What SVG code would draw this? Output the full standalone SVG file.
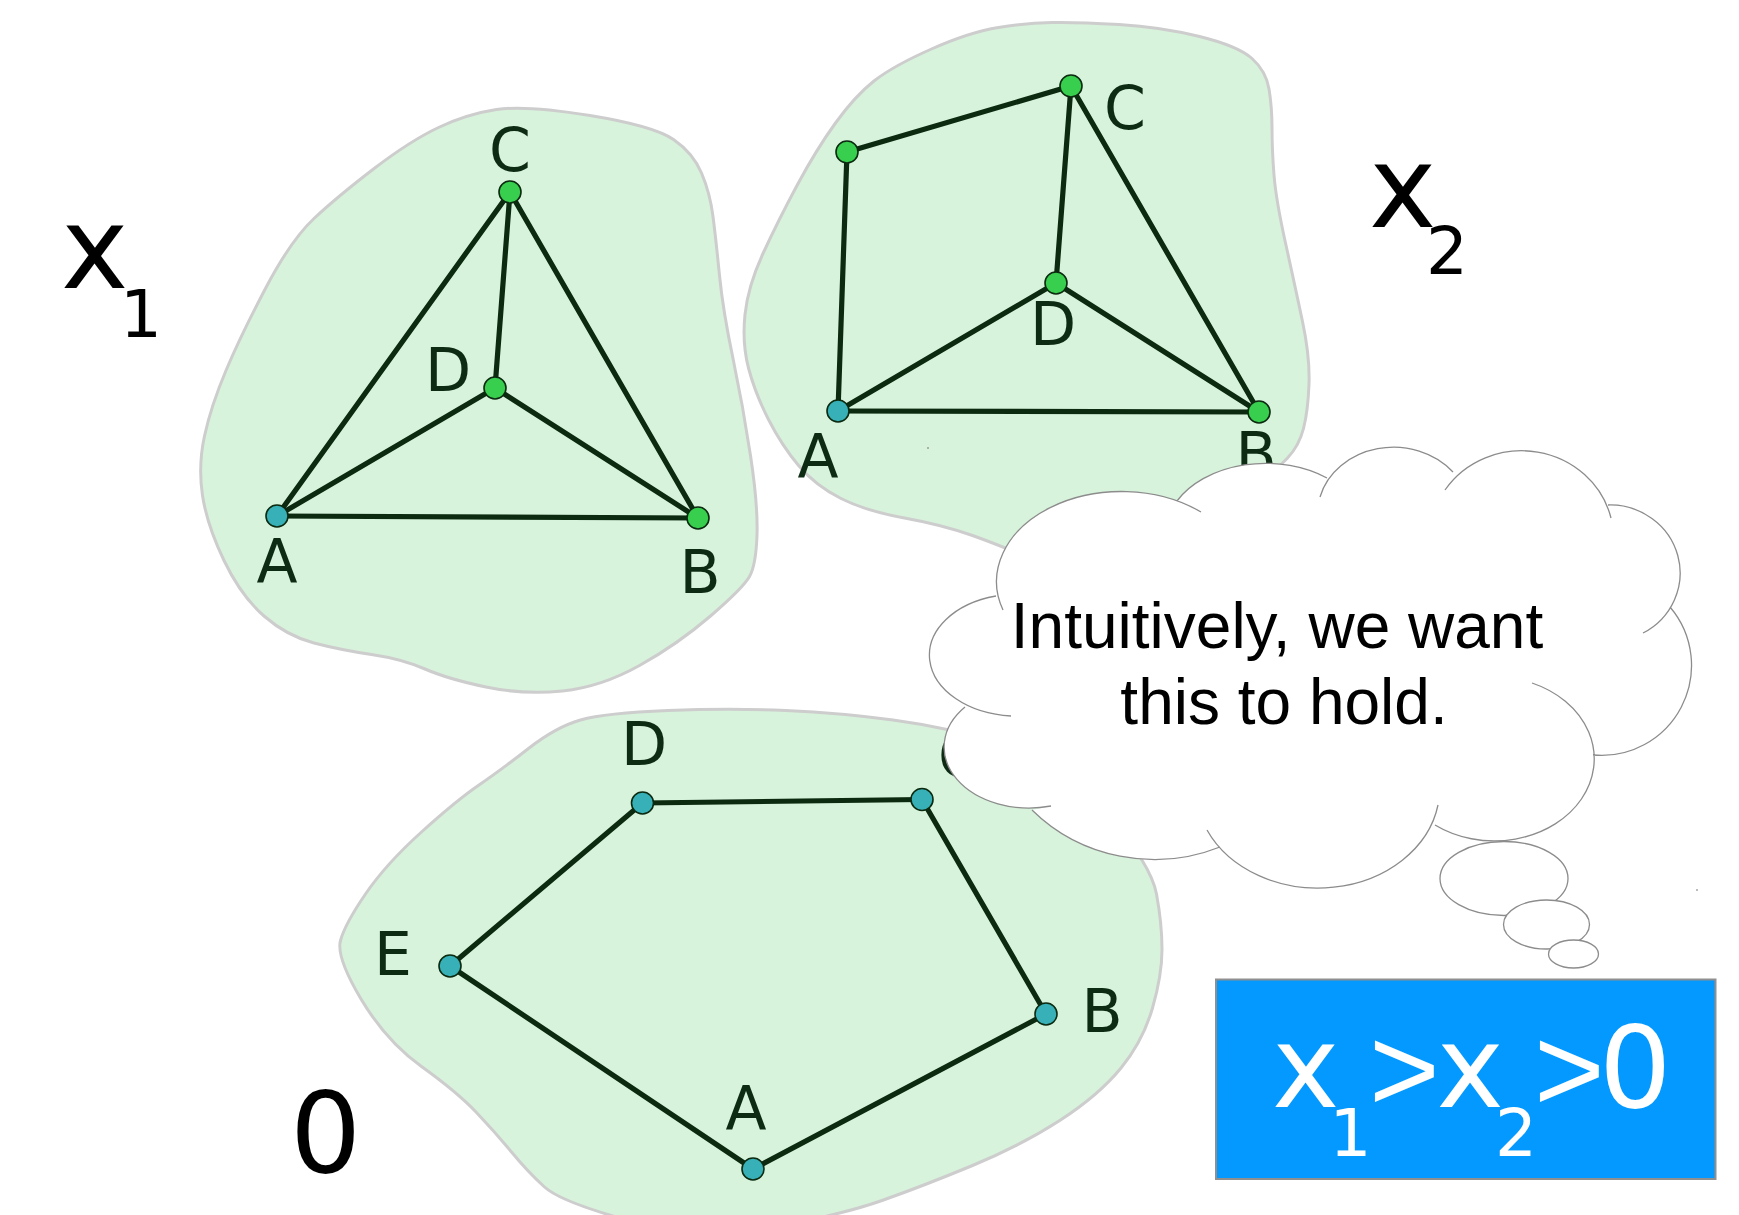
<svg xmlns="http://www.w3.org/2000/svg" width="1739" height="1215" viewBox="0 0 1739 1215">
<style>
.blob{fill:#d8f3dc;stroke:#cdcdcd;stroke-width:3}
.edge line{stroke:#0b2a0f;stroke-width:5.2;stroke-linecap:round}
.ng{fill:#38cf4f;stroke:#0b2a0f;stroke-width:1.6}
.nt{fill:#38b0b8;stroke:#0b2a0f;stroke-width:1.6}
.lbl{font-family:"DejaVu Sans",sans-serif;font-size:60px;fill:#0d2a12;text-anchor:middle}
.big{font-family:"DejaVu Sans",sans-serif;fill:#000}
.cloudfill{fill:#fff;stroke:none}
.cloudline{fill:none;stroke:#8c8c8c;stroke-width:1.3}
.bubble{fill:#fff;stroke:#8c8c8c;stroke-width:1.3}
.say{font-family:"Liberation Sans",Arial,sans-serif;font-size:64px;fill:#000;text-anchor:middle}
.box{fill:#0399ff;stroke:#8f8f8f;stroke-width:2}
.boxt{font-family:"DejaVu Sans",sans-serif;fill:#fff}
.gt{font-family:"Liberation Sans",Arial,sans-serif}
</style>
<rect width="1739" height="1215" fill="#fff"/>
<g id="regions">
<path id="region-x1" class="blob" d="M590,115.5 Q654,126 673.5,139.5 Q693,153 701.5,173 Q710,193 713,216.5 Q716,240 719.5,275.5 Q723,311 733,358.5 Q743,406 750.5,455.5 Q758,505 757,535 Q756,565 749.5,576.5 Q743,588 710.5,616 Q678,644 639.5,665.5 Q601,687 562.5,691 Q524,695 486,687 Q448,679 425,669 Q402,659 371.5,654.5 Q341,650 314,643 Q287,636 264,616 Q241,596 224,560.5 Q207,525 202.5,495.5 Q198,466 204.5,436 Q211,406 226,370.5 Q241,335 266,287.5 Q291,240 314,218.5 Q337,197 373.5,169 Q410,141 438.5,127.5 Q467,114 496.5,109.5 Q526,105 590,115.5 Z"/>
<path id="region-x2" class="blob" d="M1119,24.5 Q1161,27 1199.5,36.5 Q1238,46 1252,58.5 Q1266,71 1269,89 Q1272,107 1272,128.5 Q1272,150 1274,175 Q1276,200 1285.5,243 Q1295,286 1302.5,321.5 Q1310,357 1309,384 Q1308,411 1303.5,428.5 Q1299,446 1287.5,458 Q1276,470 1238,505 Q1200,540 1140,560 Q1080,580 1041,563 Q1002,546 972.5,535.5 Q943,525 904.5,518 Q866,511 841,498.5 Q816,486 799,466 Q782,446 768.5,419.5 Q755,393 748.5,368 Q742,343 745,314.5 Q748,286 763,253.5 Q778,221 797,185.5 Q816,150 835.5,123 Q855,96 874,81 Q893,66 931.5,49 Q970,32 998.5,27.5 Q1027,23 1052,22.5 Q1077,22 1119,24.5 Z"/>
<path id="region-0" class="blob" d="M580.5,720 Q605,713 668,710.5 Q731,708 786,710.5 Q841,713 893,720 Q945,727 1002.5,743.5 Q1060,760 1105.5,812 Q1151,864 1156.5,894 Q1162,924 1162,949.5 Q1162,975 1152.5,1008 Q1143,1041 1121,1068 Q1099,1095 1060.5,1120 Q1022,1145 972.5,1165.5 Q923,1186 882,1200.5 Q841,1215 770.5,1227.5 Q700,1240 630.5,1221 Q561,1202 544.5,1187 Q528,1172 511.5,1152 Q495,1132 476,1112 Q457,1092 421.5,1066.5 Q386,1041 361,999 Q336,957 340.5,940.5 Q345,924 365.5,894 Q386,864 421.5,832 Q457,800 479,785 Q501,770 528.5,748.5 Q556,727 580.5,720 Z"/>
<circle cx="928" cy="448" r="0.8" fill="#666"/>
<circle cx="1697" cy="890" r="0.8" fill="#666"/>
</g>
<g id="connectors" class="edge">
<line x1="277" y1="516" x2="510" y2="192"/>
<line x1="277" y1="516" x2="495" y2="388"/>
<line x1="277" y1="516" x2="698" y2="518"/>
<line x1="510" y1="192" x2="495" y2="388"/>
<line x1="510" y1="192" x2="698" y2="518"/>
<line x1="495" y1="388" x2="698" y2="518"/>
<line x1="847" y1="152" x2="1071" y2="86"/>
<line x1="847" y1="152" x2="838" y2="411"/>
<line x1="1071" y1="86" x2="1056" y2="283"/>
<line x1="1071" y1="86" x2="1259" y2="412"/>
<line x1="1056" y1="283" x2="838" y2="411"/>
<line x1="1056" y1="283" x2="1259" y2="412"/>
<line x1="838" y1="411" x2="1259" y2="412"/>
<line x1="642.5" y1="803" x2="922" y2="799.5"/>
<line x1="922" y1="799.5" x2="1046" y2="1014"/>
<line x1="1046" y1="1014" x2="753" y2="1169"/>
<line x1="753" y1="1169" x2="450" y2="966"/>
<line x1="450" y1="966" x2="642.5" y2="803"/>
</g>
<g id="x1-A"><circle class="nt" cx="277" cy="516" r="11"/><text class="lbl" x="277" y="582">A</text></g>
<g id="x1-B"><circle class="ng" cx="698" cy="518" r="11"/><text class="lbl" x="700" y="593">B</text></g>
<g id="x1-C"><circle class="ng" cx="510" cy="192" r="11"/><text class="lbl" x="510" y="171">C</text></g>
<g id="x1-D"><circle class="ng" cx="495" cy="388" r="11"/><text class="lbl" x="448" y="391">D</text></g>
<g id="x2-E"><circle class="ng" cx="847" cy="152" r="11"/></g>
<g id="x2-A"><circle class="nt" cx="838" cy="411" r="11"/><text class="lbl" x="818" y="477">A</text></g>
<g id="x2-B"><circle class="ng" cx="1259" cy="412" r="11"/><text class="lbl" x="1256" y="475">B</text></g>
<g id="x2-C"><circle class="ng" cx="1071" cy="86" r="11"/><text class="lbl" x="1125" y="129">C</text></g>
<g id="x2-D"><circle class="ng" cx="1056" cy="283" r="11"/><text class="lbl" x="1053" y="345">D</text></g>
<g id="o-A"><circle class="nt" cx="753" cy="1169" r="11"/><text class="lbl" x="746" y="1129">A</text></g>
<g id="o-B"><circle class="nt" cx="1046" cy="1014" r="11"/><text class="lbl" x="1102" y="1032">B</text></g>
<g id="o-C"><circle class="nt" cx="922" cy="799.5" r="11"/><text class="lbl" x="959" y="777">C</text></g>
<g id="o-D"><circle class="nt" cx="642.5" cy="803" r="11"/><text class="lbl" x="644" y="765">D</text></g>
<g id="o-E"><circle class="nt" cx="450" cy="966" r="11"/><text class="lbl" x="393" y="975">E</text></g>
<g id="label-x1"><text class="big"><tspan x="61" y="288" font-size="114">x</tspan><tspan x="120" y="337" font-size="66">1</tspan></text></g>
<g id="label-x2"><text class="big"><tspan x="1369" y="227" font-size="114">x</tspan><tspan x="1426" y="274" font-size="66">2</tspan></text></g>
<g id="label-0"><text class="big" x="290" y="1172" font-size="112">0</text></g>
<g id="thought-cloud">
<path class="cloudfill" d="M996,596 A88,61 0 0 0 1011,716 L965,707 A85,61 0 0 0 1051,806 L1032,810 A170,162 0 0 0 1220,847 L1207,830 A122,100 0 0 0 1438,805 L1435,825 A100,82 0 1 0 1532,683 L1593,755 A90,90 0 0 0 1670,607 L1643,633 A70,68 0 0 0 1608,505 L1611,518 A92,88 0 0 0 1445,490 L1453,472 A76,66 0 0 0 1320,497 L1327,478 A100,70 0 0 0 1177,501 L1201,512 A125,90 0 0 0 1003,610 Z"/>
<path class="cloudline" d="M996,596 A88,61 0 0 0 1011,716 M965,707 A85,61 0 0 0 1051,806 M1032,810 A170,162 0 0 0 1220,847 M1207,830 A122,100 0 0 0 1438,805 M1435,825 A100,82 0 1 0 1532,683 M1593,755 A90,90 0 0 0 1670,607 M1643,633 A70,68 0 0 0 1608,505 M1611,518 A92,88 0 0 0 1445,490 M1453,472 A76,66 0 0 0 1320,497 M1327,478 A100,70 0 0 0 1177,501 M1201,512 A125,90 0 0 0 1003,610"/>
<ellipse class="bubble" cx="1504" cy="878.5" rx="64" ry="37"/>
<ellipse class="bubble" cx="1546.5" cy="924.5" rx="43" ry="24.5"/>
<ellipse class="bubble" cx="1573.5" cy="954" rx="25" ry="14"/>
<text class="say"><tspan x="1277" y="648">Intuitively, we want</tspan><tspan x="1284" y="724">this to hold.</tspan></text>
</g>
<g id="inequality">
<rect class="box" x="1216" y="979.5" width="499.5" height="199.5"/>
<text class="boxt"><tspan x="1272" y="1107" font-size="114">x</tspan><tspan x="1329.5" y="1156" font-size="66">1</tspan><tspan class="gt" x="1369" y="1111" font-size="121">&gt;</tspan><tspan x="1436.5" y="1107" font-size="114">x</tspan><tspan x="1495" y="1156" font-size="66">2</tspan><tspan class="gt" x="1534" y="1111" font-size="121">&gt;</tspan><tspan x="1599" y="1107" font-size="114">0</tspan></text>
</g>
</svg>
